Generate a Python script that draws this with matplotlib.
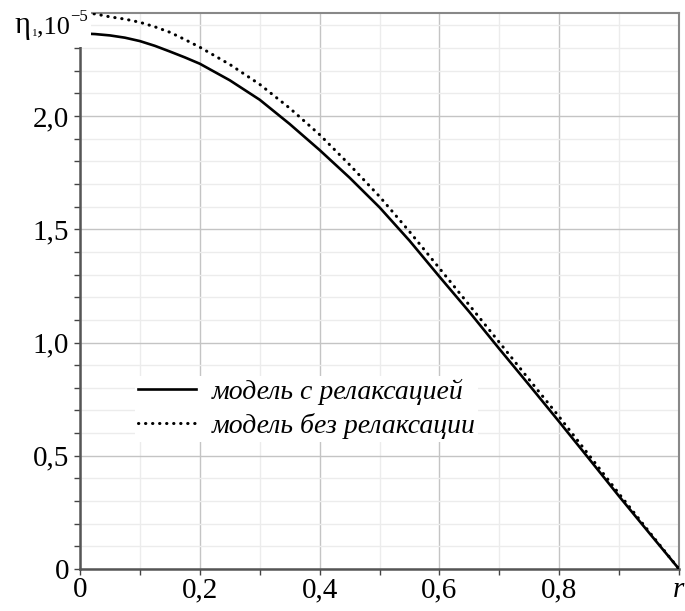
import matplotlib
matplotlib.use("Agg")
import matplotlib.pyplot as plt
from matplotlib.patches import Rectangle
from matplotlib.ticker import MultipleLocator

plt.rcParams['font.family'] = ['Liberation Serif', 'DejaVu Serif']
plt.rcParams['mathtext.fontset'] = 'stix'

r = [0.0, 0.025, 0.05, 0.075, 0.1, 0.125, 0.15, 0.175, 0.2, 0.25, 0.3, 0.35, 0.4, 0.45, 0.5,
     0.55, 0.6, 0.65, 0.7, 0.75, 0.8, 0.85, 0.9, 0.95, 1.0]
eta_relax = [2.365, 2.362, 2.356, 2.346, 2.331, 2.310, 2.285, 2.259, 2.231, 2.158, 2.072,
             1.965, 1.850, 1.728, 1.597, 1.450, 1.291, 1.135, 0.972, 0.812, 0.650,
             0.486, 0.321, 0.160, 0.0]
eta_norelax = [2.455, 2.451, 2.438, 2.428, 2.414, 2.394, 2.37, 2.338, 2.304, 2.228, 2.14,
               2.035, 1.918, 1.785, 1.645, 1.49, 1.328, 1.165, 1.001, 0.836, 0.672,
               0.502, 0.332, 0.165, 0.0]
labels = ['модель с релаксацией', 'модель без релаксации']
xtick_vals = [0, 0.2, 0.4, 0.6, 0.8, 1.0]
xtick_labels = ['0', '0,2', '0,4', '0,6', '0,8', 'r']
ytick_vals = [0, 0.5, 1.0, 1.5, 2.0]
ytick_labels = ['0', '0,5', '1,0', '1,5', '2,0']

W, H = 685, 611
fig = plt.figure(figsize=(W / 100, H / 100), dpi=100)
ax = fig.add_axes([80/W, 1-569/H, 599/W, 556/H])

ax.plot(r, eta_relax, color='black', lw=1.9, label=labels[0], zorder=3)
ax.plot(r, eta_norelax, color='black', lw=2.2, linestyle=(0, (0.1, 2.2)),
        dash_capstyle='round', label=labels[1], zorder=3)

ax.set_xlim(0, 1.0)
ax.set_ylim(0, 2.455)
ax.set_xticks(xtick_vals)
ax.set_xticklabels(xtick_labels, fontsize=21)
ax.get_xticklabels()[-1].set_fontstyle('italic')
ax.set_yticks(ytick_vals)
ax.set_yticklabels(ytick_labels, fontsize=21)
ax.xaxis.set_minor_locator(MultipleLocator(0.1))
ax.yaxis.set_minor_locator(MultipleLocator(0.1))
ax.grid(which='major', color='#c4c4c4', lw=1.0, zorder=0)
ax.grid(which='minor', color='#ececec', lw=1.0, zorder=0)
ax.set_axisbelow(True)
ax.tick_params(which='both', direction='out', length=4, width=1, color='#444444')
ax.tick_params(axis='x', pad=2)
ax.tick_params(axis='y', pad=4)

for s in ['left', 'bottom']:
    ax.spines[s].set_color('#555555')
    ax.spines[s].set_linewidth(1.8)
for s in ['top', 'right']:
    ax.spines[s].set_color('#888888')
    ax.spines[s].set_linewidth(1.5)

leg = ax.legend(loc='upper left', bbox_to_anchor=(0.092, 0.347), frameon=True,
                fancybox=False, edgecolor='none', facecolor='white', framealpha=1,
                prop={'family': 'Liberation Serif', 'style': 'italic', 'size': 20},
                handlelength=2.1, handletextpad=0.55, labelspacing=0.28,
                borderpad=0.1, borderaxespad=0)

fig.patches.append(Rectangle((0, 1-47/H), 91/W, 47/H,
                             transform=fig.transFigure, facecolor='white',
                             edgecolor='none', zorder=5))
# axis label pieces: η, subscript 1, ",10", superscript −5
fig.text(14/W, 1-33/H, 'η', fontsize=22, ha='left', va='baseline', zorder=6)
fig.text(32/W, 1-36/H, '1', fontsize=8, ha='left', va='baseline', zorder=6)
fig.text(37/W, 1-33/H, ',10', fontsize=19, ha='left', va='baseline', zorder=6)
fig.text(70/W, 1-21/H, '−5', fontsize=12, ha='left', va='baseline', zorder=6)

fig.savefig('out.png', dpi=100)
